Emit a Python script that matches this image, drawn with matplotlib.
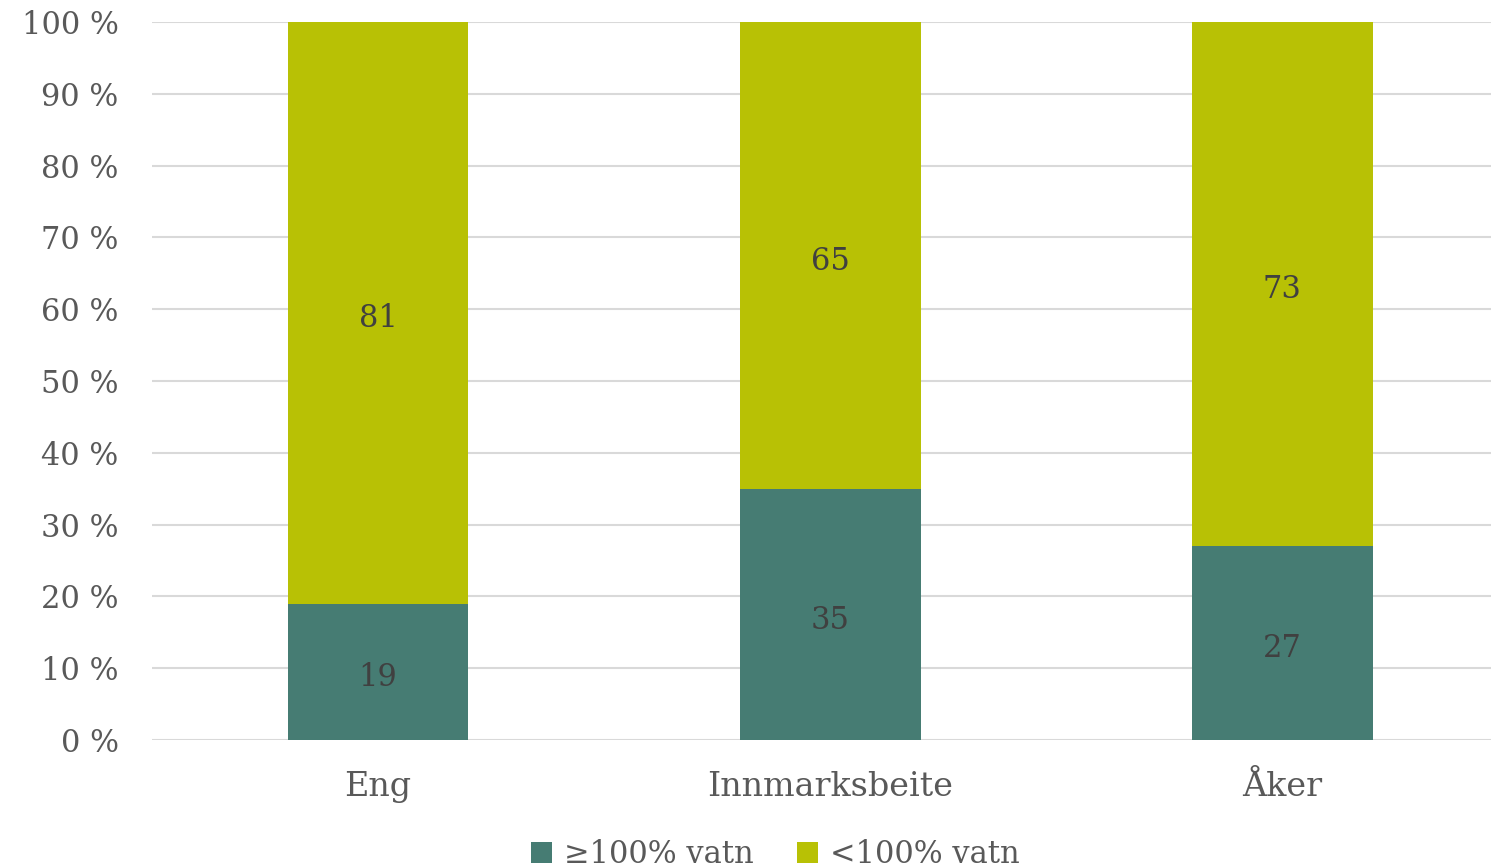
import matplotlib.pyplot as plt
import numpy as np

categories = ["Eng", "Innmarksbeite", "Åker"]
over_100 = [19, 35, 27]
under_100 = [81, 65, 73]
series_names = ["≥100% vatn", "<100% vatn"]
yticks = [0, 10, 20, 30, 40, 50, 60, 70, 80, 90, 100]

teal = '#467C73'
lime = '#B8C105'
txt = '#595959'

plt.rcParams['font.family'] = ['DejaVu Serif']

fig = plt.figure(figsize=(14.91, 8.68), dpi=100)
ax = fig.add_axes([152/1491, 128/868, 1 - 152/1491, (740-22)/868])

x = np.arange(len(categories))
b1 = ax.bar(x, over_100, width=0.4, color=teal, label=series_names[0], zorder=3)
b2 = ax.bar(x, under_100, width=0.4, bottom=over_100, color=lime, label=series_names[1], zorder=3)

# labels in the middle of each segment (nudged down a bit like old-style digits)
for i in range(len(categories)):
    ax.text(x[i], over_100[i] / 2 - 0.8, str(over_100[i]), ha='center', va='center',
            fontsize=22, color='#404040', zorder=4)
    ax.text(x[i], over_100[i] + under_100[i] / 2 - 0.8, str(under_100[i]), ha='center', va='center',
            fontsize=22, color='#404040', zorder=4)

ax.set_ylim(0, 100)
ax.set_xlim(-0.5, 2.462)
ax.set_yticks(yticks)
ax.set_yticklabels([f"{v} %" for v in yticks], fontsize=22, color=txt)
ax.set_xticks(x)
ax.set_xticklabels(categories, fontsize=24, color=txt)
ax.tick_params(axis='both', length=0)
ax.tick_params(axis='y', pad=24)
ax.tick_params(axis='x', pad=22)
ax.grid(axis='y', color='#D9D9D9', linewidth=1.5, zorder=0)
for s in ax.spines.values():
    s.set_visible(False)

leg = fig.legend(handles=[b1, b2], loc='center', bbox_to_anchor=(0.52, 0.015), ncol=2,
                 frameon=False, fontsize=22, handlelength=0.7, handleheight=0.7,
                 handletextpad=0.4, columnspacing=1.4)
for t in leg.get_texts():
    t.set_color(txt)

fig.savefig("out.png", dpi=100)
